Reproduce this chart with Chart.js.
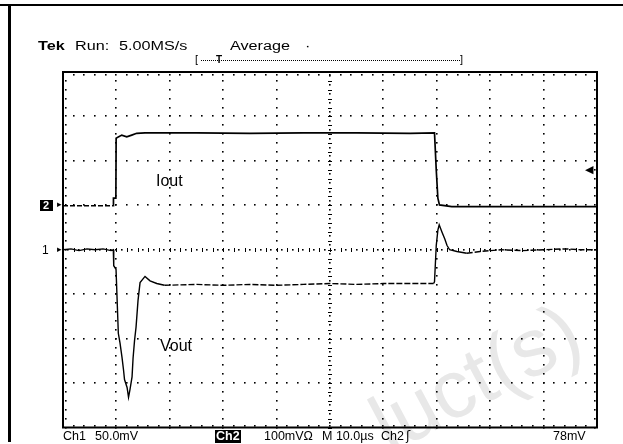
<!DOCTYPE html>
<html><head><meta charset="utf-8">
<script src="https://cdn.jsdelivr.net/npm/chart.js@4"></script>
<style>
html,body{margin:0;padding:0;background:#fff;}
#wrap{position:relative;width:623px;height:444px;overflow:hidden;font-family:"Liberation Sans",Arial,sans-serif;color:#000;}
#wm{position:absolute;left:396px;top:384px;font-size:82px;line-height:1;color:#e8e8e8;transform:rotate(-28deg);transform-origin:0 100%;white-space:nowrap;}
#frameTop{position:absolute;left:0;top:4px;width:623px;height:2px;background:#000;}
#frameLeft{position:absolute;left:8px;top:4px;width:3px;height:438px;background:#000;}
#c{position:absolute;left:0;top:0;}
.t{position:absolute;white-space:nowrap;line-height:1;}
.top{font-size:12px;top:40px;transform:scaleX(1.35);transform-origin:0 50%;}
.bot{font-size:12.5px;top:430px;}
.inv{background:#000;color:#fff;font-weight:bold;}
#bline{position:absolute;left:201px;top:60px;width:259px;height:0;border-top:1px dotted #000;}
.lab{font-size:16px;}
</style></head>
<body><div id="wrap">
<div id="wm">luct(s)</div>
<canvas id="c" width="623" height="444"></canvas>
<div id="frameTop"></div><div id="frameLeft"></div>
<div class="t top" style="left:38px;font-weight:bold;">Tek</div>
<div class="t top" style="left:75px;">Run:</div>
<div class="t top" style="left:119px;">5.00MS/s</div>
<div class="t top" style="left:230px;">Average</div>
<div class="t top" style="left:305px;">·</div>
<div class="t" style="left:195px;top:54px;font-size:11px;">[</div>
<div id="bline"></div>
<div class="t" style="left:216px;top:55px;font-size:10px;font-weight:bold;">T</div>
<div class="t" style="left:460px;top:54px;font-size:11px;">]</div>
<div class="t bot" style="left:63px;">Ch1</div>
<div class="t bot" style="left:95px;">50.0mV</div>
<div class="t bot inv" style="left:215px;padding:0 1px;">Ch2</div>
<div class="t bot" style="left:264px;">100mVΩ</div>
<div class="t bot" style="left:322px;">M 10.0µs</div>
<div class="t bot" style="left:381px;">Ch2</div>
<div class="t bot" style="left:406px;font-family:'DejaVu Sans';">ʃ</div>
<div class="t bot" style="left:553px;">78mV</div>
<div class="t inv" style="left:40px;top:200px;font-size:11px;padding:0 4px 0 3px;">2</div>
<div class="t" style="left:57px;top:200px;font-size:9px;font-family:'DejaVu Sans';">▸</div>
<div class="t" style="left:42px;top:244px;font-size:12px;">1</div>
<div class="t" style="left:57px;top:245px;font-size:9px;font-family:'DejaVu Sans';">▸</div>
<div class="t" style="left:585px;top:164px;font-size:11px;font-family:'DejaVu Sans';">◀</div>
<div class="t lab" style="left:156px;top:173px;">Iout</div>
<div class="t lab" style="left:160px;top:338px;">Vout</div>
</div>
<script>
// time axis in microseconds (M 10.0 µs/div, 10 divisions)
const timeDivUs = 10;
const ch1mVPerDiv = 50;   // Vout
const ch2mVPerDiv = 100;  // Iout
const ch2OffsetDiv = 1;   // Ch2 ground marker one division above centre
const triggerLevel_mV = 78;

const voutTime = [0,1.5,3,4.5,6,7.5,9,9.42,9.5,9.93,10.36,10.68,11.05,11.33,11.52,12.0,12.27,12.55,12.93,13.12,13.4,13.68,14.05,14.43,15.36,16.3,17.56,19,25,30,35,40,45,50,55,60,65,69.4,69.57,69.9,70.2,70.45,70.96,71.5,71.9,72.4,73.77,75.6,78.1,82,86,90,94,97,100];
const voutmV  = [0,1,-1,1,0,1,-1,0,-18,-22,-94,-105,-121,-135,-146,-155,-166,-157,-143,-122,-102,-87,-57,-37,-30,-35,-38,-40,-39,-40,-39,-40,-39,-38,-39,-38,-38,-38,-36,5,22,28,20,12,5,0,-2,-4,-2,0,-1,0,1,0,0];

const ioutTime = [0,5,9.4,9.45,9.9,9.95,10.36,11.0,11.94,12.87,13.8,15.36,25,35,45,55,65,69.57,69.9,70.2,70.5,72.8,80,90,100];
const ioutmV   = [-1,-1,-1,16,16,151,154,158,154,158,162,163,163,162,163,163,162,163,79,16,1,-3,-3,-3,-3];

const toXY = (ts, vs) => ts.map((t, i) => ({x: t, y: vs[i]}));

const scopeGrid = {
  id: 'scopeGrid',
  beforeDatasetsDraw(chart) {
    const ctx = chart.ctx, xs = chart.scales.x, ys = chart.scales.y1;
    const {left, right, top, bottom} = chart.chartArea;
    const dot = (x, y) => ctx.fillRect(Math.round(x) - 1, Math.round(y) - 1, 1.6, 1.6);
    ctx.save();
    ctx.fillStyle = '#000';
    for (let i = 1; i < 10; i++) {
      if (i === 5) continue;
      const px = xs.getPixelForValue(i * timeDivUs);
      for (let m = -20; m <= 20; m++) dot(px, ys.getPixelForValue(m * ch1mVPerDiv / 5));
    }
    for (let j = -3; j <= 3; j++) {
      if (j === 0) continue;
      const py = ys.getPixelForValue(j * ch1mVPerDiv);
      for (let m = 0; m <= 50; m++) dot(xs.getPixelForValue(m * timeDivUs / 5), py);
    }
    const cx = xs.getPixelForValue(5 * timeDivUs), cy = ys.getPixelForValue(0);
    for (let m = -40; m <= 40; m++) {
      const py = ys.getPixelForValue(m * ch1mVPerDiv / 10);
      if (m % 2 === 0) ctx.fillRect(Math.round(cx) - 2, Math.round(py), 4, 1); else dot(cx, py);
    }
    for (let m = 0; m <= 100; m++) {
      const px = xs.getPixelForValue(m * timeDivUs / 10);
      if (m % 2 === 0) ctx.fillRect(Math.round(px), Math.round(cy) - 2, 1, 4); else dot(px, cy);
    }
    for (let m = 0; m <= 50; m++) {
      const px = xs.getPixelForValue(m * timeDivUs / 5);
      dot(px, top + 3); dot(px, bottom - 2);
    }
    for (let m = -20; m <= 20; m++) {
      const py = ys.getPixelForValue(m * ch1mVPerDiv / 5);
      dot(left + 3, py); dot(right - 2, py);
    }
    ctx.lineWidth = 2;
    ctx.strokeStyle = '#000';
    ctx.strokeRect(left, top, right - left, bottom - top);
    ctx.restore();
  }
};

new Chart(document.getElementById('c'), {
  type: 'line',
  data: {
    datasets: [
      {label: 'Iout', data: toXY(ioutTime, ioutmV), yAxisID: 'y2',
       borderColor: '#000', borderWidth: 1.7, pointRadius: 0, tension: 0, fill: false,
       segment: {borderDash: c => (c.p1.parsed.x <= 9.4) ? [5, 2] : undefined}},
      {label: 'Vout', data: toXY(voutTime, voutmV), yAxisID: 'y1',
       borderColor: '#000', borderWidth: 1.4, pointRadius: 0, tension: 0, fill: false,
       segment: {borderDash: c => ((c.p0.parsed.x >= 19 && c.p1.parsed.x <= 69.4) || c.p0.parsed.x >= 75.6) ? [6, 2] : undefined}}
    ]
  },
  options: {
    responsive: false, animation: false,
    layout: {padding: {left: 63, top: 72, right: 26, bottom: 16.5}},
    plugins: {legend: {display: false}, tooltip: {enabled: false}},
    scales: {
      x: {type: 'linear', min: 0, max: 10 * timeDivUs, display: false},
      y1: {type: 'linear', min: -4 * ch1mVPerDiv, max: 4 * ch1mVPerDiv, display: false},
      y2: {type: 'linear', min: -(4 + ch2OffsetDiv) * ch2mVPerDiv, max: (4 - ch2OffsetDiv) * ch2mVPerDiv, display: false}
    }
  },
  plugins: [scopeGrid]
});
</script>
</body></html>
